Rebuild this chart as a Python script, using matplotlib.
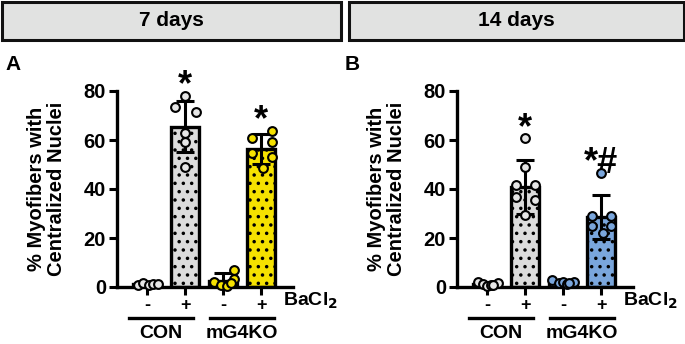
import matplotlib
matplotlib.use("Agg")
from matplotlib import pyplot as plt
from matplotlib.patches import Rectangle
import numpy as np

plt.rcParams['font.family'] = ['Liberation Sans', 'DejaVu Sans']
plt.rcParams['font.weight'] = 'bold'
plt.rcParams['hatch.linewidth'] = 1.3

# groups / treatment labels
treat_labels = ['-', '+', '-', '+']
group_names = ['CON', 'mG4KO']
headers = ['7 days', '14 days']
panel_letters = ['A', 'B']

# panel A (7 days)
means_7 = [1.2, 65.5, 2.6, 56.3]
sd_7 = [0.6, 10.5, 3.0, 6.0]
points_7 = [
    [1.0, 1.6, 0.8, 1.4, 1.2],
    [78, 73.5, 71.5, 63, 59, 49],
    [6.8, 3.3, 2.0, 0.8, 0.5, 1.5],
    [63.8, 61, 59.3, 54.5, 53, 48.4],
]
stars_7 = ['*', '*']

# panel B (14 days)
means_14 = [1.3, 40.8, 1.9, 28.7]
sd_14 = [0.6, 11.0, 0.7, 9.0]
points_14 = [
    [2.0, 1.2, 0.6, 0.8, 1.5, 1.0],
    [60.7, 49, 41.6, 41.6, 36.6, 35.5, 29.4],
    [2.8, 1.6, 2.2, 1.4, 2.0, 1.8],
    [46.6, 29, 29, 24.9, 24.9, 22],
]
stars_14 = ['*', '*#']

bar_colors_7 = ['#dcdcdc', '#dcdcdc', '#f5e100', '#f5e100']
bar_colors_14 = ['#dcdcdc', '#dcdcdc', '#7aa6dc', '#7aa6dc']
pt_colors_7 = ['#e6e6e6', '#e6e6e6', '#f5e100', '#f5e100']
pt_colors_14 = ['#e6e6e6', '#e6e6e6', '#7aa6dc', '#7aa6dc']

jitter = [
    [-0.25, -0.1, 0.05, 0.15, 0.28],
    [0.0, -0.27, 0.3, 0.0, 0.0, 0.0],
    [0.3, 0.3, -0.25, -0.05, 0.1, 0.2],
    [0.28, -0.25, 0.28, -0.25, 0.28, 0.05],
]
jitter_b = [
    [-0.25, -0.1, 0.0, 0.1, 0.28, 0.15],
    [0.0, 0.0, -0.25, 0.25, -0.25, 0.25, 0.0],
    [-0.28, -0.1, 0.0, 0.1, 0.28, 0.15],
    [0.0, -0.25, 0.25, -0.25, 0.25, 0.05],
]

W, H = 685, 344
fig = plt.figure(figsize=(W / 100, H / 100), dpi=100)


def px(x0, y0, w, h):
    return [x0 / W, 1 - (y0 + h) / H, w / W, h / H]


def draw_panel(x_axis, means, sds, points, jit, bar_cols, pt_cols, stars, letter, header, hx0, hx1):
    ax = fig.add_axes(px(x_axis, 91, 176, 196))
    x = np.arange(4)
    for i in range(4):
        ax.bar(x[i], means[i], width=0.74, color=bar_cols[i], edgecolor='black',
               linewidth=2.4, hatch='..' if i % 2 == 1 else None, zorder=2)
        ax.errorbar(x[i], means[i], yerr=sds[i], color='black', capsize=6.5,
                    elinewidth=2.2, capthick=2.2, zorder=3)
        ax.scatter(x[i] + np.array(jit[i]), points[i], s=40, facecolor=pt_cols[i],
                   edgecolor='black', linewidth=1.5, zorder=4, clip_on=False)
    ax.set_xlim(-0.79, 3.84)
    ax.set_ylim(0, 80)
    ax.set_yticks([0, 20, 40, 60, 80])
    ax.set_xticks(x)
    ax.set_xticklabels(treat_labels)
    ax.tick_params(axis='both', width=2.2, length=6, labelsize=14.5, pad=2)
    ax.tick_params(axis='x', labelsize=13, pad=1)
    for lab in ax.get_xticklabels() + ax.get_yticklabels():
        lab.set_fontweight('bold')
    for s in ['top', 'right']:
        ax.spines[s].set_visible(False)
    for s in ['left', 'bottom']:
        ax.spines[s].set_linewidth(2.4)
    ax.set_ylabel('% Myofibers with\nCentralized Nuclei', fontsize=14.5, fontweight='bold',
                  linespacing=1.05)
    ax.yaxis.set_label_coords(-0.29, 0.5)
    # significance marks
    ax.text(1, max(points[1]) + 4, stars[0], ha='center', va='center',
            fontsize=26, fontweight='bold', clip_on=False)
    ax.text(3, max(points[3]) + 4, stars[1], ha='center', va='center',
            fontsize=26, fontweight='bold', clip_on=False)
    # BaCl2 label
    fig.text((x_axis + 166) / W, 1 - 301 / H, 'BaCl$_\\mathbf{2}$', fontsize=14,
             fontweight='bold', va='center', ha='left')
    # group lines and names
    for g, name in enumerate(group_names):
        cx = [x_axis + 12, x_axis + 93][g]
        fig.add_artist(plt.Line2D([cx / W, (cx + 64) / W], [1 - 318 / H, 1 - 318 / H],
                                  color='black', linewidth=2.4))
        fig.text((cx + 32) / W, 1 - 333 / H, name, ha='center', va='center',
                 fontsize=14, fontweight='bold')
    # panel letter
    fig.text((x_axis - 112) / W, 1 - 65 / H, letter, fontsize=15, fontweight='bold',
             ha='left', va='center')
    # header box
    fig.add_artist(Rectangle((hx0 / W, 1 - 40 / H), (hx1 - hx0) / W, 38.5 / H,
                             facecolor='#e1e2e1', edgecolor='#111111', linewidth=2.2,
                             transform=fig.transFigure))
    fig.text((hx0 + hx1) / 2 / W, 1 - 21 / H, header, ha='center', va='center',
             fontsize=15, fontweight='bold')
    return ax


draw_panel(117, means_7, sd_7, points_7, jitter, bar_colors_7, pt_colors_7, stars_7,
           panel_letters[0], headers[0], 1.5, 341)
draw_panel(457, means_14, sd_14, points_14, jitter_b, bar_colors_14, pt_colors_14, stars_14,
           panel_letters[1], headers[1], 349, 683.5)

fig.savefig('out.png', dpi=100)
